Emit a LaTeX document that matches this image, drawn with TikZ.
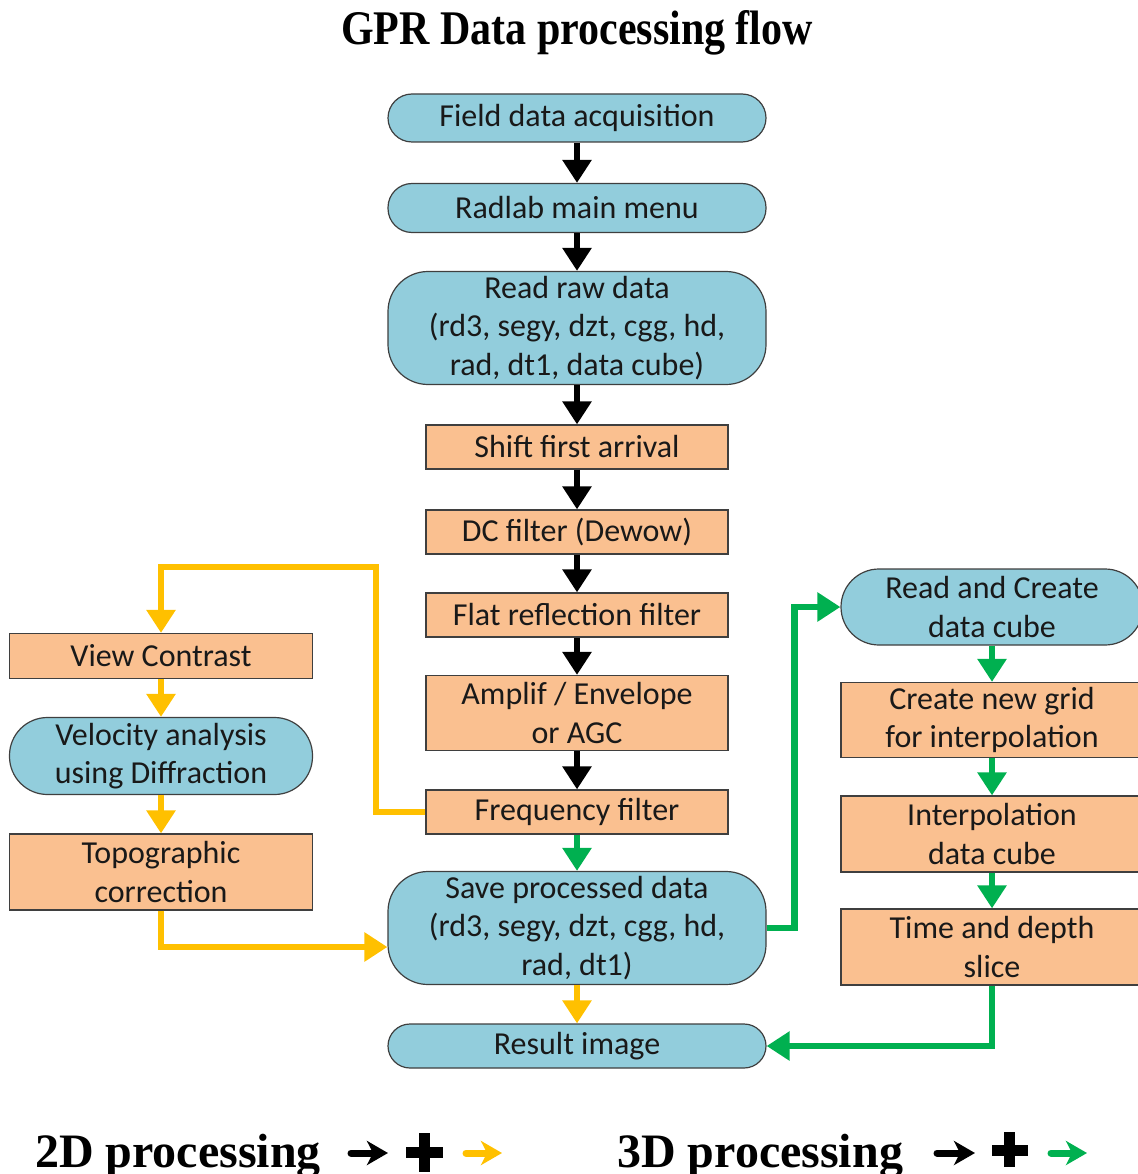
\documentclass[tikz,border=0pt]{standalone}
\usepackage{fontspec}
\usepackage{graphicx}
\setmainfont{Carlito}
\newfontfamily\serifbold[BoldFont={Liberation Serif Bold}]{Liberation Serif}
\usetikzlibrary{arrows.meta}
\definecolor{bluefill}{HTML}{92CDDC}
\definecolor{orangefill}{HTML}{FAC090}
\definecolor{flowyellow}{HTML}{FFC000}
\definecolor{flowgreen}{HTML}{00B050}
\definecolor{boxline}{HTML}{3F3F3F}
\begin{document}
\begin{tikzpicture}[x=1pt,y=-1pt,
  base/.style={draw=boxline, line width=1.2pt, align=center, inner sep=0pt,
    font=\fontsize{32}{38.5}\selectfont, text=black!90},
  term/.style={base, fill=bluefill, rounded corners=#1},
  proc/.style={base, fill=orangefill},
  flow/.style={line width=6.5pt, -{Triangle[width=28pt,length=23pt]}},
  blackflow/.style={flow, draw=black},
  yellowflow/.style={flow, draw=flowyellow},
  greenflow/.style={flow, draw=flowgreen},
  legendtext/.style={anchor=base west, inner sep=0pt, font=\serifbold\bfseries\fontsize{48}{50}\selectfont},
  legendarrow/.style={line width=7pt, line cap=round, -{Stealth[width=24pt,length=21pt,inset=6pt]}},
]
\useasboundingbox (0,0) rectangle (1137,1174);

% title
\node[anchor=base, inner sep=0pt, font=\serifbold\bfseries\fontsize{42}{44}\selectfont] (title) at (577,45)
  {\scalebox{1}[1.15]{GPR Data processing flow}};

% central column
\node[term=24pt, minimum width=378pt, minimum height=48pt] (fda) at (577,118) {Field data acquisition};
\node[term=24pt, minimum width=378pt, minimum height=49pt] (rmm) at (577,208) {Radlab main menu};
\node[term=40pt, minimum width=378pt, minimum height=113pt] (rrd) at (577,328)
  {Read raw data\\(rd3, segy, dzt, cgg, hd,\\rad, dt1, data cube)};
\node[proc, minimum width=302pt, minimum height=44pt] (sfa) at (577,447) {Shift first arrival};
\node[proc, minimum width=302pt, minimum height=44pt] (dcf) at (577,532) {DC filter (Dewow)};
\node[proc, minimum width=302pt, minimum height=44pt] (frf) at (577,615) {Flat reflection filter};
\node[proc, minimum width=302pt, minimum height=75pt] (amp) at (577,713) {Amplif / Envelope\\or AGC};
\node[proc, minimum width=302pt, minimum height=44pt] (ff) at (577,812) {Frequency filter};
\node[term=40pt, minimum width=378pt, minimum height=113pt] (sp) at (577,928)
  {Save processed data\\(rd3, segy, dzt, cgg, hd,\\rad, dt1)};
\node[term=22pt, minimum width=378pt, minimum height=44pt] (ri) at (577,1046) {Result image};

% left column
\node[proc, minimum width=303pt, minimum height=45pt] (vc) at (161,656) {View Contrast};
\node[term=38pt, minimum width=303pt, minimum height=77pt] (va) at (161,756) {Velocity analysis\\using Diffraction};
\node[proc, minimum width=303pt, minimum height=76pt] (tc) at (161,872) {Topographic\\correction};

% right column
\node[term=38pt, minimum width=302pt, minimum height=76pt] (rc) at (992,607) {Read and Create\\data cube};
\node[proc, minimum width=302pt, minimum height=75pt] (ng) at (992,720) {Create new grid\\for interpolation};
\node[proc, minimum width=302pt, minimum height=76pt] (ic) at (992,834) {Interpolation\\data cube};
\node[proc, minimum width=302pt, minimum height=76pt] (ts) at (992,947) {Time and depth\\slice};

% black flow
\draw[blackflow] (fda) -- (rmm);
\draw[blackflow] (rmm) -- (rrd);
\draw[blackflow] (rrd) -- (sfa);
\draw[blackflow] (sfa) -- (dcf);
\draw[blackflow] (dcf) -- (frf);
\draw[blackflow] (frf) -- (amp);
\draw[blackflow] (amp) -- (ff);

% 2D (yellow)
\coordinate (yturn) at (376,567);
\draw[yellowflow] (ff.west) -| (yturn) -| (vc.north);
\draw[yellowflow] (vc) -- (va);
\draw[yellowflow] (va) -- (tc);
\draw[yellowflow] (tc.south) |- ([yshift=-19pt]sp.west);
\draw[yellowflow] (sp) -- (ri);

% 3D (green)
\draw[greenflow] (ff) -- (sp);
\draw[greenflow] (sp.east) -- ++(28,0) |- (rc.west);
\draw[greenflow] (rc) -- (ng);
\draw[greenflow] (ng) -- (ic);
\draw[greenflow] (ic) -- (ts);
\draw[greenflow] (ts.south) |- (ri.east);

% legend
\node[legendtext] (leg2d) at (35,1167) {2D processing};
\node[legendtext] (leg3d) at (617,1167) {3D processing};
% 2D glyphs
\draw[legendarrow, black] (351,1153) -- (388,1153);
\fill (406,1147) rectangle (443,1158);
\fill (419,1133) rectangle (430,1172);
\draw[legendarrow, flowyellow] (466,1153) -- (502,1153);
% 3D glyphs
\draw[legendarrow, black] (937,1153) -- (975,1153);
\fill (992,1145) rectangle (1028,1156);
\fill (1004,1132) rectangle (1015,1167);
\draw[legendarrow, flowgreen] (1051,1153) -- (1087,1153);
\end{tikzpicture}
\end{document}
